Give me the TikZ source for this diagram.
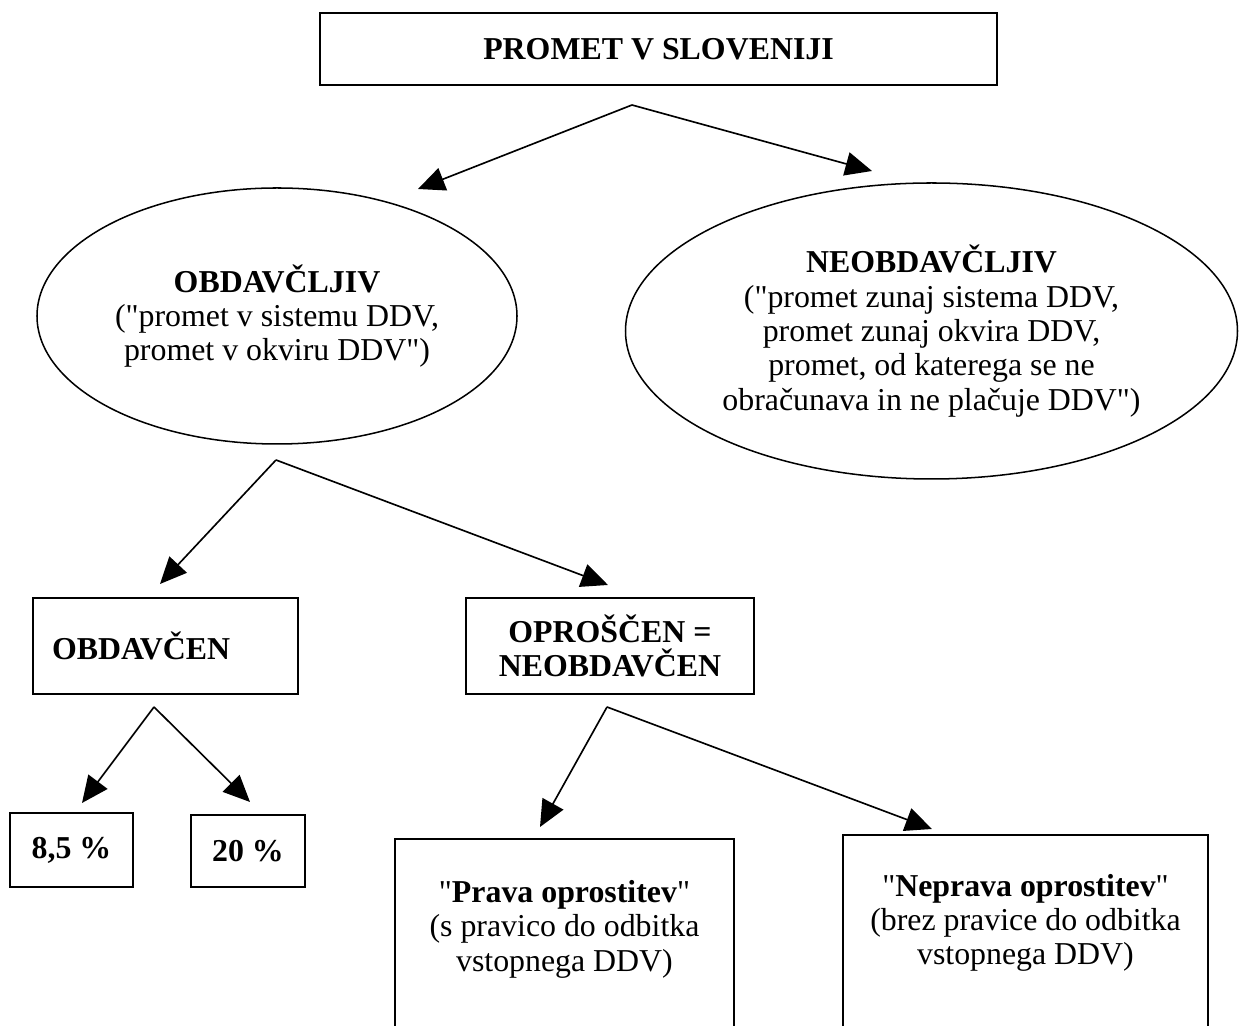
\documentclass[tikz,border=0pt]{standalone}
\usepackage{fontspec}
\setmainfont{Liberation Serif}[Ligatures=TeXOff]
\usetikzlibrary{arrows.meta,shapes,positioning}
\newcommand{\pxu}{0.0139cm}
\tikzset{
    block/.style = {draw, rectangle, line width=0.8pt,
        inner sep=0pt, align=center},
    oval/.style = {draw, ellipse, line width=0.6pt,
        inner sep=0pt, align=center},
    note/.style = {align=center, inner sep=0pt},
    arrow/.style = {draw, line width=0.65pt, -{Triangle[length=0.37cm,width=0.33cm]}}
}

\begin{document}
\begin{tikzpicture}[x=\pxu, y=-\pxu, font=\fontsize{12.6}{13.6}\selectfont]
        \useasboundingbox (0,0) rectangle (1240,1026);
        \clip (0,0) rectangle (1240,1026);
        \node [block, minimum width=677*\pxu, minimum height=72*\pxu, name=promet] at (658.5,49) {\textbf{PROMET V SLOVENIJI}};
        \node [oval, minimum width=480*\pxu, minimum height=256*\pxu, name=obdavcljiv] at (277,316)
            {\textbf{OBDAVČLJIV}\\("promet v sistemu DDV,\\promet v okviru DDV")};
        \node [oval, minimum width=612*\pxu, minimum height=296*\pxu, name=neobdavcljiv] at (931.5,331)
            {\textbf{NEOBDAVČLJIV}\\("promet zunaj sistema DDV,\\promet zunaj okvira DDV,\\promet, od katerega se ne\\obračunava in ne plačuje DDV")};
        \node [block, align=left, text width=227*\pxu, inner xsep=19*\pxu, minimum height=96*\pxu, name=obdavcen] at (165.5,646) {\textbf{OBDAVČEN}};
        \node [block, minimum width=288*\pxu, minimum height=96*\pxu, name=oproscen] at (610,646) {\textbf{OPROŠČEN =}\\\textbf{NEOBDAVČEN}};
        \node [block, minimum width=123*\pxu, minimum height=74*\pxu, name=nizja] at (71.5,850) {\textbf{8,5 \%}};
        \node [block, minimum width=114*\pxu, minimum height=72*\pxu, name=splosna] at (248,851) {\textbf{20 \%}};
        \node [block, anchor=north, minimum width=339*\pxu, minimum height=260*\pxu, name=prava] at (564.5,838) {};
        \node [note, below=0.58cm of prava.north, name=pravatext] {"\textbf{Prava oprostitev}"\\(s pravico do odbitka\\vstopnega DDV)};
        \node [block, anchor=north, minimum width=365*\pxu, minimum height=270*\pxu, name=neprava] at (1025.5,834) {};
        \node [note, below=0.55cm of neprava.north, name=nepravatext] {"\textbf{Neprava oprostitev}"\\(brez pravice do odbitka\\vstopnega DDV)};
        % razcepi in konci puscic
        \coordinate (promet-split) at (632,105);
        \coordinate (obdavcljiv-split) at (276,460);
        \coordinate (obdavcen-split) at (154,707);
        \coordinate (oproscen-split) at (607,707);
        \coordinate (to-obdavcljiv) at (418,189);
        \coordinate (to-neobdavcljiv) at (872,171);
        \coordinate (to-obdavcen) at (160,584);
        \coordinate (to-oproscen) at (608,585);
        \coordinate (to-nizja) at (82,803);
        \coordinate (to-splosna) at (250,802);
        \coordinate (to-prava) at (540,827);
        \coordinate (to-neprava) at (932,829);
        \foreach \s/\t in {promet/obdavcljiv, promet/neobdavcljiv, obdavcljiv/obdavcen, obdavcljiv/oproscen,
            obdavcen/nizja, obdavcen/splosna, oproscen/prava, oproscen/neprava}{
            \draw [arrow] (\s-split) -- (to-\t);
        }
\end{tikzpicture}
\end{document}
